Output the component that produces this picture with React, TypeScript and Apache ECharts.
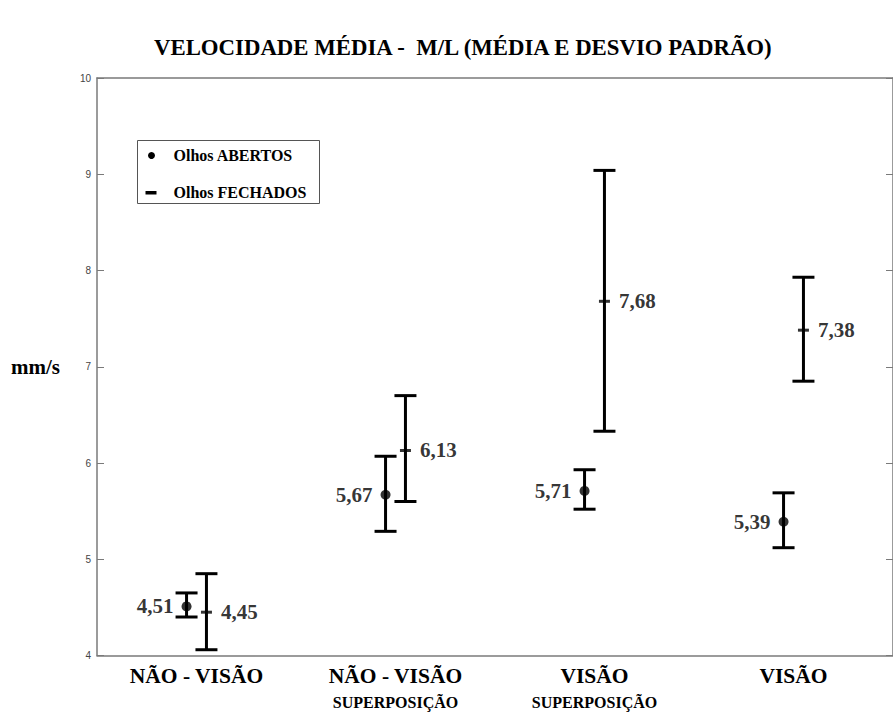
import React, { useEffect, useRef } from "react";
import * as echarts from "echarts";

const titleText = "VELOCIDADE MÉDIA -  M/L (MÉDIA E DESVIO PADRÃO)";
const yAxisName = "mm/s";
const mainLabels = ["NÃO - VISÃO", "NÃO - VISÃO", "VISÃO", "VISÃO"];
const subLabels = ["", "SUPERPOSIÇÃO", "SUPERPOSIÇÃO", ""];
const categories = ["c1", "c2", "c3", "c4"];
const positions = [1, 2, 3, 4];
const groupOffset = 0.05;

const openMean = [4.51, 5.67, 5.71, 5.39];
const openLow = [4.4, 5.29, 5.52, 5.12];
const openHigh = [4.65, 6.07, 5.93, 5.69];

const closedMean = [4.45, 6.13, 7.68, 7.38];
const closedLow = [4.06, 5.6, 6.33, 6.85];
const closedHigh = [4.85, 6.7, 9.04, 7.93];

const legendNames = ["Olhos ABERTOS", "Olhos FECHADOS"];
const yTicks = { min: 4, max: 10, interval: 1 };

const SERIF = "Liberation Serif";
const SANS = "Liberation Sans";
const AXIS_COLOR = "#7a7a7a";

function fmt(v: number) {
  return v.toFixed(2).replace(".", ",");
}

export default function App() {
  const ref = useRef<HTMLDivElement>(null);
  useEffect(() => {
    if (!ref.current) return;
    const chart = echarts.init(ref.current, null, { renderer: "svg" });

    const openX = positions.map((p) => p - groupOffset);
    const closedX = positions.map((p) => p + groupOffset);

    const errData = [
      ...openX.map((x, i) => [x, openLow[i], openHigh[i]]),
      ...closedX.map((x, i) => [x, closedLow[i], closedHigh[i]]),
    ];

    const renderItem = (params: any, api: any) => {
      const x = api.value(0);
      const lo = api.coord([x, api.value(1)]);
      const hi = api.coord([x, api.value(2)]);
      const cw = 11;
      const st = { stroke: "#000", lineWidth: 3 };
      return {
        type: "group",
        children: [
          { type: "line", shape: { x1: lo[0], y1: lo[1], x2: hi[0], y2: hi[1] }, style: st },
          { type: "line", shape: { x1: lo[0] - cw, y1: lo[1], x2: lo[0] + cw, y2: lo[1] }, style: st },
          { type: "line", shape: { x1: hi[0] - cw, y1: hi[1], x2: hi[0] + cw, y2: hi[1] }, style: st },
        ],
      };
    };

    const labelStyle = {
      fontFamily: SERIF,
      fontWeight: "bold",
      fontSize: 21,
      color: "#000",
      textBorderWidth: 0,
    };

    const axisLineStyle = { color: AXIS_COLOR, width: 1.5 };

    chart.setOption({
      animation: false,
      backgroundColor: "#fff",
      textStyle: { fontFamily: SERIF },
      title: {
        text: titleText,
        left: 149,
        top: 31,
        textStyle: { fontFamily: SERIF, fontWeight: "bold", fontSize: 22.8, color: "#000" },
      },
      grid: { left: 97, top: 78, right: -4, bottom: 57.5, containLabel: false },
      xAxis: [
        {
          type: "category",
          data: categories,
          position: "bottom",
          boundaryGap: true,
          axisLine: { lineStyle: axisLineStyle },
          axisTick: { alignWithLabel: true, inside: true, length: 7, lineStyle: { color: AXIS_COLOR, width: 1 } },
          axisLabel: {
            margin: 8,
            interval: 0,
            fontFamily: SERIF,
            fontWeight: "bold",
            fontSize: 21,
            color: "#000",
            formatter: (_v: string, i: number) =>
              `{m|${mainLabels[i]}}` + (subLabels[i] ? `\n{s|${subLabels[i]}}` : ""),
            rich: {
              m: { fontFamily: SERIF, fontWeight: "bold", fontSize: 21.5, lineHeight: 24, color: "#000" },
              s: { fontFamily: SERIF, fontWeight: "bold", fontSize: 16, lineHeight: 30, color: "#000" },
            },
          },
          splitLine: { show: false },
        },
        {
          type: "category",
          data: categories,
          position: "top",
          boundaryGap: true,
          axisLine: { lineStyle: axisLineStyle },
          axisTick: { alignWithLabel: true, inside: true, length: 8, lineStyle: { color: AXIS_COLOR, width: 1 } },
          axisLabel: { show: false },
          splitLine: { show: false },
        },
        { type: "value", min: 0.5, max: 4.5, show: false, splitLine: { show: false } },
      ],
      yAxis: [
        {
          type: "value",
          min: yTicks.min,
          max: yTicks.max,
          interval: yTicks.interval,
          position: "left",
          name: yAxisName,
          nameLocation: "middle",
          nameRotate: 0,
          nameGap: 37,
          nameTextStyle: { fontFamily: SERIF, fontWeight: "bold", fontSize: 21, color: "#000" },
          axisLine: { show: true, lineStyle: axisLineStyle },
          axisTick: { show: true, inside: true, length: 7, lineStyle: { color: AXIS_COLOR, width: 1 } },
          axisLabel: { margin: 6, fontFamily: SANS, fontSize: 10, color: "#444" },
          splitLine: { show: false },
        },
        {
          type: "value",
          min: yTicks.min,
          max: yTicks.max,
          interval: yTicks.interval,
          position: "right",
          axisLine: { show: true, lineStyle: axisLineStyle },
          axisTick: { show: true, inside: true, length: 7, lineStyle: { color: AXIS_COLOR, width: 1 } },
          axisLabel: { show: false },
          splitLine: { show: false },
        },
      ],
      series: [
        {
          type: "custom",
          name: "errorbars",
          xAxisIndex: 2,
          yAxisIndex: 0,
          renderItem,
          encode: { x: 0, y: [1, 2] },
          data: errData,
          silent: true,
          z: 2,
        },
        {
          type: "scatter",
          name: legendNames[0],
          xAxisIndex: 2,
          yAxisIndex: 0,
          symbol: "circle",
          symbolSize: 10,
          itemStyle: { color: "#000" },
          data: openX.map((x, i) => [x, openMean[i]]),
          label: {
            show: true,
            position: "left",
            distance: 8,
            formatter: (p: any) => fmt(p.value[1]),
            ...labelStyle,
          },
          z: 3,
        },
        {
          type: "scatter",
          name: legendNames[1],
          xAxisIndex: 2,
          yAxisIndex: 0,
          symbol: "rect",
          symbolSize: [11, 3],
          itemStyle: { color: "#000" },
          data: closedX.map((x, i) => [x, closedMean[i]]),
          label: {
            show: true,
            position: "right",
            distance: 9,
            formatter: (p: any) => fmt(p.value[1]),
            ...labelStyle,
          },
          z: 3,
        },
      ],
      graphic: [
        {
          type: "group",
          left: 137,
          top: 140,
          children: [
            {
              type: "rect",
              shape: { x: 0, y: 0, width: 182, height: 63 },
              style: { fill: "#fff", stroke: "#555", lineWidth: 1 },
            },
            { type: "circle", shape: { cx: 14, cy: 15, r: 3.5 }, style: { fill: "#000" } },
            { type: "rect", shape: { x: 8, y: 50.5, width: 11, height: 3.5 }, style: { fill: "#000" } },
            {
              type: "text",
              x: 36,
              y: 15,
              style: {
                text: legendNames[0],
                font: `bold 16px ${SERIF}`,
                fill: "#000",
                verticalAlign: "middle",
              },
            },
            {
              type: "text",
              x: 36,
              y: 52,
              style: {
                text: legendNames[1],
                font: `bold 16px ${SERIF}`,
                fill: "#000",
                verticalAlign: "middle",
              },
            },
          ],
        },
      ],
    });

    return () => chart.dispose();
  }, []);

  return (
    <div
      ref={ref}
      style={{ position: "absolute", left: 0, top: 0, width: 893, height: 713, background: "#fff" }}
    />
  );
}
